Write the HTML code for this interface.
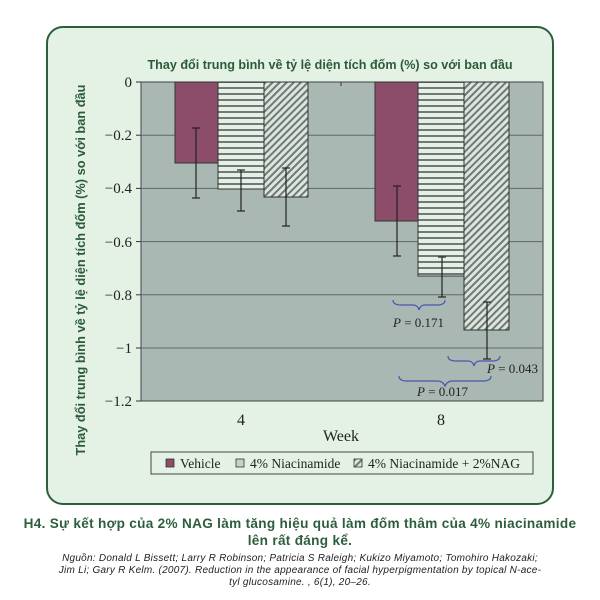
<!DOCTYPE html>
<html><head><meta charset="utf-8"><style>
html,body{margin:0;padding:0;background:#fff;width:600px;height:600px;overflow:hidden}
</style></head><body>
<svg width="600" height="600" xmlns="http://www.w3.org/2000/svg">
<defs>
<pattern id="hz" width="6" height="6" patternUnits="userSpaceOnUse">
<rect width="6" height="6" fill="#e6efe6"/><rect y="3" width="6" height="2" fill="#6f7a74"/>
</pattern>
<pattern id="dg" width="5" height="5" patternUnits="userSpaceOnUse" patternTransform="rotate(45)">
<rect width="5" height="5" fill="#dde6de"/><rect width="2" height="5" fill="#6f7a74"/>
</pattern>
</defs>
<rect x="47" y="27" width="506" height="477" rx="16" fill="#e3f2e5" stroke="#2d5e3c" stroke-width="2"/>
<text x="330" y="69" text-anchor="middle" font-family="Liberation Sans, DejaVu Sans, sans-serif" font-weight="bold" font-size="12.6" fill="#2d5a3a">Thay đổi trung bình về tỷ lệ diện tích đốm (%) so với ban đầu</text>
<rect x="141" y="82" width="402" height="319" fill="#a9b8b2" stroke="#444" stroke-width="1"/>
<g stroke="#5e6a65" stroke-width="1">
<line x1="141" y1="135.2" x2="543" y2="135.2"/><line x1="141" y1="188.4" x2="543" y2="188.4"/>
<line x1="141" y1="241.6" x2="543" y2="241.6"/><line x1="141" y1="294.8" x2="543" y2="294.8"/>
<line x1="141" y1="348" x2="543" y2="348"/>
</g>
<g stroke="#333" stroke-width="1">
<line x1="136" y1="82" x2="141" y2="82"/><line x1="136" y1="135.2" x2="141" y2="135.2"/><line x1="136" y1="188.4" x2="141" y2="188.4"/><line x1="136" y1="241.6" x2="141" y2="241.6"/><line x1="136" y1="294.8" x2="141" y2="294.8"/><line x1="136" y1="348" x2="141" y2="348"/><line x1="136" y1="401" x2="141" y2="401"/>
<line x1="341" y1="82" x2="341" y2="86"/>
</g>
<g font-family="Liberation Serif, serif" font-size="15" fill="#222" text-anchor="end">
<text x="132" y="87">0</text><text x="132" y="140">−0.2</text><text x="132" y="193">−0.4</text><text x="132" y="247">−0.6</text><text x="132" y="300">−0.8</text><text x="132" y="353">−1</text><text x="132" y="406">−1.2</text>
</g>
<g stroke="#333" stroke-width="1">
<rect x="175" y="82" width="43" height="81" fill="#8b4d6a"/>
<rect x="218" y="82" width="46" height="107" fill="url(#hz)"/>
<rect x="264" y="82" width="44" height="115" fill="url(#dg)"/>
<rect x="375" y="82" width="43" height="139" fill="#8b4d6a"/>
<rect x="418" y="82" width="46" height="194" fill="url(#hz)"/>
<rect x="464" y="82" width="45" height="248" fill="url(#dg)"/>
</g>
<g stroke="#222" stroke-width="1.2">
<line x1="196" y1="128" x2="196" y2="198"/><line x1="192" y1="128" x2="200" y2="128"/><line x1="192" y1="198" x2="200" y2="198"/>
<line x1="241" y1="170" x2="241" y2="211"/><line x1="237" y1="170" x2="245" y2="170"/><line x1="237" y1="211" x2="245" y2="211"/>
<line x1="286" y1="168" x2="286" y2="226"/><line x1="282" y1="168" x2="290" y2="168"/><line x1="282" y1="226" x2="290" y2="226"/>
<line x1="397" y1="186" x2="397" y2="256"/><line x1="393" y1="186" x2="401" y2="186"/><line x1="393" y1="256" x2="401" y2="256"/>
<line x1="442" y1="257" x2="442" y2="297"/><line x1="438" y1="257" x2="446" y2="257"/><line x1="438" y1="297" x2="446" y2="297"/>
<line x1="487" y1="302" x2="487" y2="359"/><line x1="483" y1="302" x2="491" y2="302"/><line x1="483" y1="359" x2="491" y2="359"/>
</g>
<g fill="none" stroke="#4a55b0" stroke-width="1.2">
<path d="M393 300 q0 5 8 5 h12 q5 0 6 5 q1 -5 6 -5 h12 q8 0 8 -5"/>
<path d="M448 356 q0 5 8 5 h12 q5 0 6 5 q1 -5 6 -5 h12 q8 0 8 -5"/>
<path d="M399 376 q0 5 8 5 h30 q6 0 8 5 q2 -5 8 -5 h30 q8 0 8 -5"/>
</g>
<g font-family="Liberation Serif, serif" font-size="13" fill="#222">
<text x="393" y="327"><tspan font-style="italic">P</tspan> = 0.171</text>
<text x="487" y="373"><tspan font-style="italic">P</tspan> = 0.043</text>
<text x="417" y="396"><tspan font-style="italic">P</tspan> = 0.017</text>
</g>
<g font-family="Liberation Serif, serif" font-size="16" fill="#222" text-anchor="middle">
<text x="241" y="425">4</text><text x="441" y="425">8</text><text x="341" y="441">Week</text>
</g>
<text transform="translate(85,270) rotate(-90)" text-anchor="middle" font-family="Liberation Sans, DejaVu Sans, sans-serif" font-weight="bold" font-size="12.8" fill="#2d5a3a">Thay đổi trung bình về tỷ lệ diện tích đốm (%) so với ban đầu</text>
<rect x="151" y="452" width="382" height="22" fill="#e3f2e5" stroke="#444" stroke-width="1"/>
<g stroke="#333" stroke-width="0.8">
<rect x="166" y="459" width="8" height="8" fill="#8b4d6a"/>
<rect x="236" y="459" width="8" height="8" fill="#c7d1cb"/>
<rect x="354" y="459" width="8" height="8" fill="url(#dg)"/>
</g>
<g font-family="Liberation Serif, serif" font-size="13.5" fill="#222">
<text x="180" y="468">Vehicle</text><text x="250" y="468">4% Niacinamide</text><text x="368" y="468">4% Niacinamide + 2%NAG</text>
</g>
<g font-family="Liberation Sans, DejaVu Sans, sans-serif" font-weight="bold" font-size="13.6" letter-spacing="0.3" fill="#2d5e3c" text-anchor="middle">
<text x="300" y="528">H4. Sự kết hợp của 2% NAG làm tăng hiệu quả làm đốm thâm của 4% niacinamide</text>
<text x="300" y="545">lên rất đáng kể.</text>
</g>
<g font-family="Liberation Sans, DejaVu Sans, sans-serif" font-style="italic" font-size="10" letter-spacing="0.25" fill="#222" text-anchor="middle">
<text x="300" y="561">Nguồn: Donald L Bissett; Larry R Robinson; Patricia S Raleigh; Kukizo Miyamoto; Tomohiro Hakozaki;</text>
<text x="300" y="573">Jim Li; Gary R Kelm. (2007). Reduction in the appearance of facial hyperpigmentation by topical N-ace-</text>
<text x="300" y="585">tyl glucosamine. , 6(1), 20–26.</text>
</g>
</svg>
</body></html>
